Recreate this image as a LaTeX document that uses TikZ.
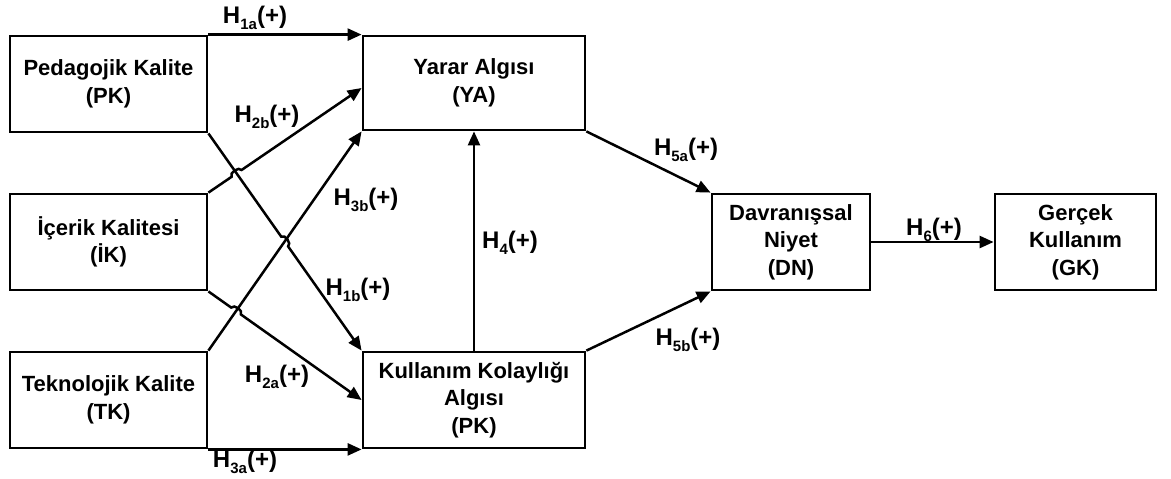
\documentclass[tikz,border=0pt]{standalone}
\usepackage{fontspec}
\setmainfont{Liberation Sans}
\usetikzlibrary{arrows.meta,calc}
\newcommand\hyp[1]{H\raisebox{-0.45ex}{\fontsize{7.5}{8}\selectfont #1}(+)}
\begin{document}
\begin{tikzpicture}[x=0.5pt,y=-0.5pt,
  box/.style={draw,line width=1.4pt,inner sep=0pt,align=center,
    font=\fontsize{11}{13.8}\selectfont\bfseries},
  arr/.style={line width=1.25pt,-{Triangle[length=7pt,width=6pt]}},
  lab/.style={font=\fontsize{12}{14}\selectfont\bfseries,inner sep=0pt},
  hop/.style={bend left=90}]
\useasboundingbox (0,0) rectangle (1171,478);
% boxes
\node[box,minimum width=98.5pt,minimum height=48pt] (pk) at (108.5,84) {Pedagojik Kalite\\(PK)};
\node[box,minimum width=98.5pt,minimum height=48pt] (ik) at (108.5,242) {İçerik Kalitesi\\(İK)};
\node[box,minimum width=98.5pt,minimum height=48pt] (tk) at (108.5,400) {Teknolojik Kalite\\(TK)};
\node[box,minimum width=111pt,minimum height=47pt] (ya) at (474,83) {Yarar Algısı\\(YA)};
\node[box,minimum width=111pt,minimum height=48pt] (kk) at (474,400) {Kullanım Kolaylığı\\Algısı\\(PK)};
\node[box,minimum width=79pt,minimum height=48pt] (dn) at (791,242) {Davranışsal\\Niyet\\(DN)};
\node[box,minimum width=80.5pt,minimum height=48pt] (gk) at (1075.5,242) {Gerçek\\Kullanım\\(GK)};
% end points and crossings
\coordinate (ya2b) at ([yshift=-2.5pt]ya.west);
\coordinate (x1) at (intersection of pk.south east--kk.north west and ik.north east--ya2b);
\coordinate (x2) at (intersection of pk.south east--kk.north west and tk.north east--ya.south west);
\coordinate (x3) at (intersection of ik.south east--kk.west and tk.north east--ya.south west);
% connectors
\draw[arr] (pk.north east) -- (ya.north west);
\draw[arr] (tk.south east) -- (kk.south west);
\draw[arr] (tk.north east) -- (ya.south west);
\draw[arr] (ik.north east) -- ($(x1)!3pt!(ik.north east)$) to[hop] ($(x1)!3pt!(ya2b)$) -- (ya2b);
\draw[arr] (pk.south east) -- ($(x2)!3pt!(pk.south east)$) to[hop] ($(x2)!3pt!(kk.north west)$) -- (kk.north west);
\draw[arr] (ik.south east) -- ($(x3)!3pt!(ik.south east)$) to[hop] ($(x3)!3pt!(kk.west)$) -- (kk.west);
\draw[arr] (kk.north) -- (ya.south);
\draw[arr] (ya.south east) -- (dn.north west);
\draw[arr] (kk.north east) -- (dn.south west);
\draw[arr] (dn.east) -- (gk.west);
% labels
\node[lab] (l1a) at (255,18) {\hyp{1a}};
\node[lab] (l2b) at (267,117) {\hyp{2b}};
\node[lab] (l3b) at (366,200) {\hyp{3b}};
\node[lab] (l1b) at (358,290) {\hyp{1b}};
\node[lab] (l4) at (510,243) {\hyp{4}};
\node[lab] (l2a) at (277,377) {\hyp{2a}};
\node[lab] (l3a) at (245,462) {\hyp{3a}};
\node[lab] (l5a) at (686,150) {\hyp{5a}};
\node[lab] (l5b) at (688,340) {\hyp{5b}};
\node[lab] (l6) at (934,230) {\hyp{6}};
\end{tikzpicture}
\end{document}
